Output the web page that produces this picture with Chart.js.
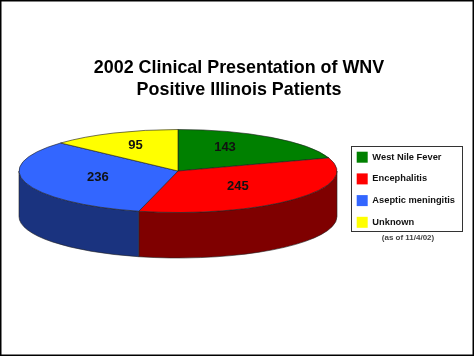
<!DOCTYPE html>
<html lang="en">
<head>
  <meta charset="UTF-8" />
  <title>2002 Clinical Presentation of WNV Positive Illinois Patients</title>
  <script src="https://cdn.jsdelivr.net/npm/chart.js"></script>
  <style>
    html, body {
      margin: 0;
      padding: 0;
      background: white;
      overflow: hidden;
    }
    canvas {
      display: block;
    }
  </style>
</head>
<body>
  <canvas id="wnvPie" width="474" height="356"></canvas>

  <script>
    const categories = ['West Nile Fever', 'Encephalitis', 'Aseptic meningitis', 'Unknown'];
    const patients = [143, 245, 236, 95];
    const topColors = ['#008000', '#ff0000', '#3366ff', '#ffff00'];
    const sideColors = ['#004000', '#7f0000', '#1a337f', '#7f7f00'];
    const titleLines = ['2002 Clinical Presentation of WNV', 'Positive Illinois Patients'];
    const footnote = '(as of 11/4/02)';

    // how the flat pie is squashed into the 3D looking one
    const pie = { cx: 178, cy: 171, rx: 159, ry: 41.5, depth: 45.5 };
    // label distance from centre as a share of the radius, x and y
    const labelShiftX = [0.5, 0.51, 0.53, 0.67];
    const labelShiftY = [0.74, 0.5, 0.42, 0.71];
    const legendBox = { left: 351, top: 146, width: 111, height: 85 };

    function squash(ctx, arc) {
      ctx.translate(pie.cx, pie.cy);
      ctx.scale(1, pie.ry / pie.rx);
      ctx.translate(-arc.x, -arc.y);
    }

    const pie3d = {
      id: 'pie3d',
      beforeDraw(chart) {
        const ctx = chart.ctx;
        ctx.save();
        ctx.fillStyle = 'white';
        ctx.fillRect(0, 0, chart.width, chart.height);
        ctx.strokeStyle = 'black';
        ctx.lineWidth = 2;
        ctx.strokeRect(0.5, 0.5, chart.width - 1, chart.height - 1);
        ctx.restore();
      },
      afterLayout(chart) {
        // legend goes where the reference has it, not where the layout puts it
        // it clips and wraps on its own box, so leave that box roomy
        const legend = chart.legend;
        legend.left = legendBox.left - 5;
        legend.right = chart.width;
        legend.top = legendBox.top - 5;
        legend.bottom = chart.height;
      },
      beforeDatasetsDraw(chart) {
        const ctx = chart.ctx;
        const arcs = chart.getDatasetMeta(0).data;

        // side wall, only the front half of the rim shows
        arcs.forEach((arc, i) => {
          const start = Math.max(arc.startAngle, 0);
          const end = Math.min(arc.endAngle, Math.PI);
          if (end <= start) return;
          ctx.save();
          ctx.beginPath();
          ctx.ellipse(pie.cx, pie.cy, pie.rx, pie.ry, 0, start, end);
          ctx.ellipse(pie.cx, pie.cy + pie.depth, pie.rx, pie.ry, 0, end, start, true);
          ctx.closePath();
          ctx.fillStyle = sideColors[i];
          ctx.fill();
          ctx.strokeStyle = '#222';
          ctx.lineWidth = 0.6;
          ctx.stroke();
          ctx.restore();
        });

        ctx.save();
        squash(ctx, arcs[0]);
      },
      afterDatasetsDraw(chart) {
        const ctx = chart.ctx;
        ctx.restore();

        // value labels
        const arcs = chart.getDatasetMeta(0).data;
        ctx.save();
        ctx.font = 'bold 13px "Liberation Sans", Arial, sans-serif';
        ctx.fillStyle = '#111';
        ctx.textAlign = 'center';
        ctx.textBaseline = 'middle';
        arcs.forEach((arc, i) => {
          const mid = (arc.startAngle + arc.endAngle) / 2;
          const x = pie.cx + Math.cos(mid) * labelShiftX[i] * pie.rx;
          const y = pie.cy + Math.sin(mid) * labelShiftY[i] * pie.ry;
          ctx.fillText(patients[i], x + 0.5, y + 1);
        });
        ctx.restore();
      },
      afterDraw(chart) {
        const ctx = chart.ctx;
        ctx.save();
        ctx.strokeStyle = '#333';
        ctx.lineWidth = 1;
        ctx.strokeRect(legendBox.left + 0.5, legendBox.top + 0.5, legendBox.width, legendBox.height);
        ctx.font = 'bold 8px "Liberation Sans", Arial, sans-serif';
        ctx.fillStyle = '#444';
        ctx.textAlign = 'center';
        ctx.textBaseline = 'middle';
        ctx.fillText(footnote, 408, 238);
        ctx.restore();
      }
    };

    new Chart(document.getElementById('wnvPie'), {
      type: 'pie',
      data: {
        labels: categories,
        datasets: [{
          data: patients,
          backgroundColor: topColors,
          borderColor: '#222',
          borderWidth: 1
        }]
      },
      options: {
        responsive: false,
        animation: false,
        radius: pie.rx,
        layout: { padding: { left: 4 } },
        plugins: {
          title: {
            display: true,
            text: titleLines,
            color: 'black',
            font: { family: '"Liberation Sans", Arial, sans-serif', size: 17.9, weight: 'bold', lineHeight: 1.23 },
            padding: { top: 57, bottom: 10 }
          },
          legend: {
            position: 'right',
            align: 'start',
            labels: {
              color: '#111',
              font: { family: '"Liberation Sans", Arial, sans-serif', size: 9.3, weight: 'bold' },
              boxWidth: 11,
              boxHeight: 11,
              padding: 10.7,
              generateLabels(chart) {
                return Chart.overrides.pie.plugins.legend.labels.generateLabels(chart)
                  .map(item => ({ ...item, lineWidth: 0 }));
              }
            }
          },
          tooltip: { enabled: false }
        }
      },
      plugins: [pie3d]
    });
  </script>
</body>
</html>
